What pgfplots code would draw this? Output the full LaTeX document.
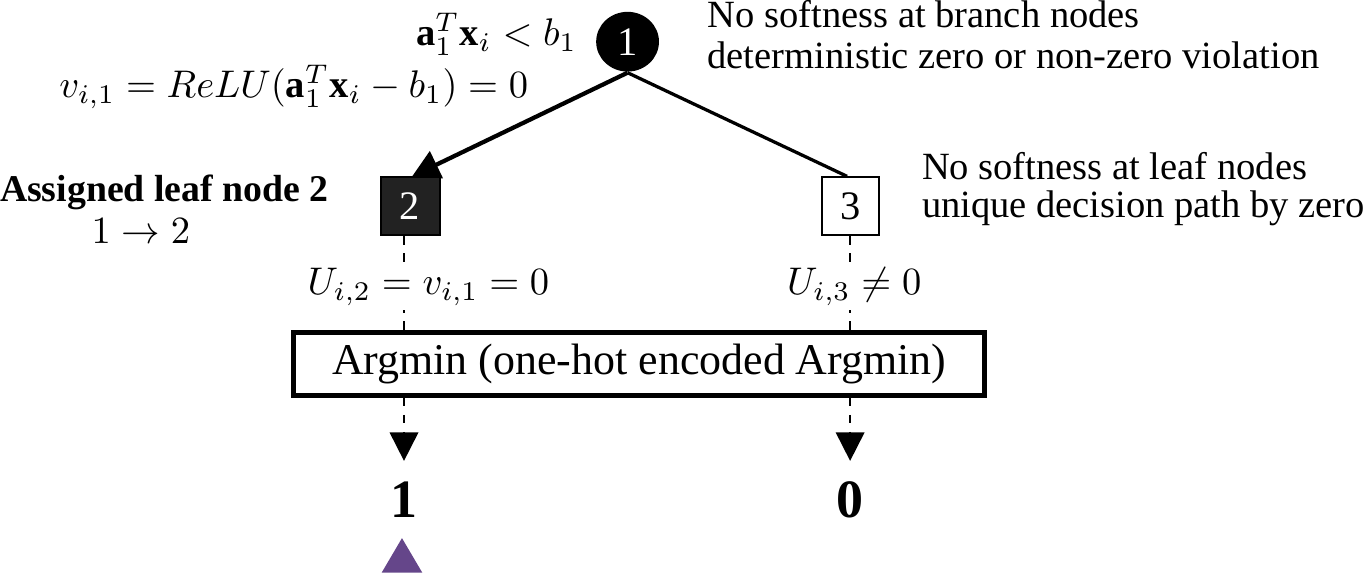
\documentclass[border=0pt]{standalone}
\usepackage{pgfplots}
\pgfplotsset{compat=1.18}
\usepackage{fontspec}
\setmainfont{Liberation Serif}
\usetikzlibrary{arrows.meta,shapes.geometric}
\definecolor{purp}{HTML}{65468A}
\definecolor{dk}{HTML}{222222}
\begin{document}
\begin{tikzpicture}
\begin{axis}[scale only axis, width=360pt, height=152.7pt,
  xmin=0, xmax=1365, ymin=0, ymax=579, hide axis, clip=false]
% tree edges
\addplot[line width=1.1pt, -{Triangle[length=7pt,width=7.6pt]}] coordinates {(633,492) (421,390)};
\addplot[line width=0.85pt] coordinates {(633,492) (849,390)};
% dashed verticals
\addplot[line width=0.5pt, dash pattern=on 2.2pt off 2.2pt] coordinates {(413,331) (413,239)};
\addplot[line width=0.5pt, dash pattern=on 2.2pt off 2.2pt] coordinates {(852,331) (852,239)};
\addplot[line width=0.5pt, dash pattern=on 2.2pt off 2.2pt, -{Triangle[length=7.4pt,width=7.4pt]}] coordinates {(413,172) (413,110)};
\addplot[line width=0.5pt, dash pattern=on 2.2pt off 2.2pt, -{Triangle[length=7.4pt,width=7.4pt]}] coordinates {(852,172) (852,110)};
% purple triangle (cut by the lower edge)
\addplot[fill=purp, draw=none] coordinates {(391,0) (411,34) (431,0)};
% nodes of the tree
\node[ellipse, fill=black, text=white, minimum width=16.3pt, minimum height=15.5pt, inner sep=0pt] at (axis cs:633,522.5) {\fontsize{10.5}{12}\selectfont 1};
\node[draw=black, line width=0.5pt, fill=dk, text=white, minimum width=15.3pt, minimum height=15.1pt, inner sep=0pt] at (axis cs:419,360.5) {\fontsize{10.5}{12}\selectfont 2};
\node[draw=black, line width=0.5pt, fill=white, minimum width=14.8pt, minimum height=15.1pt, inner sep=0pt] at (axis cs:852,360.5) {\fontsize{10.5}{12}\selectfont 3};
% argmin box
\node[draw=black, line width=1.3pt, fill=white, minimum width=179.3pt, minimum height=16.4pt, inner sep=0pt] at (axis cs:644.5,205.5) {\fontsize{11.4}{13}\selectfont Argmin (one-hot encoded Argmin)};
% labels
\node[anchor=east, inner sep=0pt] at (axis cs:584,530) {\fontsize{10}{12}\selectfont $\mathbf{a}_1^T\mathbf{x}_i < b_1$};
\node[inner sep=0pt] at (axis cs:304.5,478) {\fontsize{10}{12}\selectfont $v_{i,1} = ReLU(\mathbf{a}_1^T\mathbf{x}_i - b_1) = 0$};
\node[anchor=west, inner sep=0pt] at (axis cs:711,550) {\fontsize{10}{12}\selectfont No softness at branch nodes};
\node[anchor=west, inner sep=0pt] at (axis cs:711,509) {\fontsize{10}{12}\selectfont deterministic zero or non-zero violation};
\node[anchor=west, inner sep=0pt] at (axis cs:922,400) {\fontsize{10}{12}\selectfont No softness at leaf nodes};
\node[anchor=west, inner sep=0pt] at (axis cs:922,359) {\fontsize{10}{12}\selectfont unique decision path by zero};
\node[inner sep=0pt] at (axis cs:177,374) {\fontsize{9.8}{12}\selectfont\bfseries Assigned leaf node 2};
\node[inner sep=0pt] at (axis cs:154,336) {\fontsize{10}{12}\selectfont $1\rightarrow 2$};
\node[fill=white, inner sep=1pt] at (axis cs:437,281) {\fontsize{10}{12}\selectfont $U_{i,2} = v_{i,1} = 0$};
\node[fill=white, inner sep=1pt] at (axis cs:856,281) {\fontsize{10}{12}\selectfont $U_{i,3} \neq 0$};
\node[inner sep=0pt] at (axis cs:413,71.5) {\fontsize{14}{16}\selectfont\bfseries 1};
\node[inner sep=0pt] at (axis cs:852,71.5) {\fontsize{14}{16}\selectfont\bfseries 0};
\end{axis}
\end{tikzpicture}
\end{document}
